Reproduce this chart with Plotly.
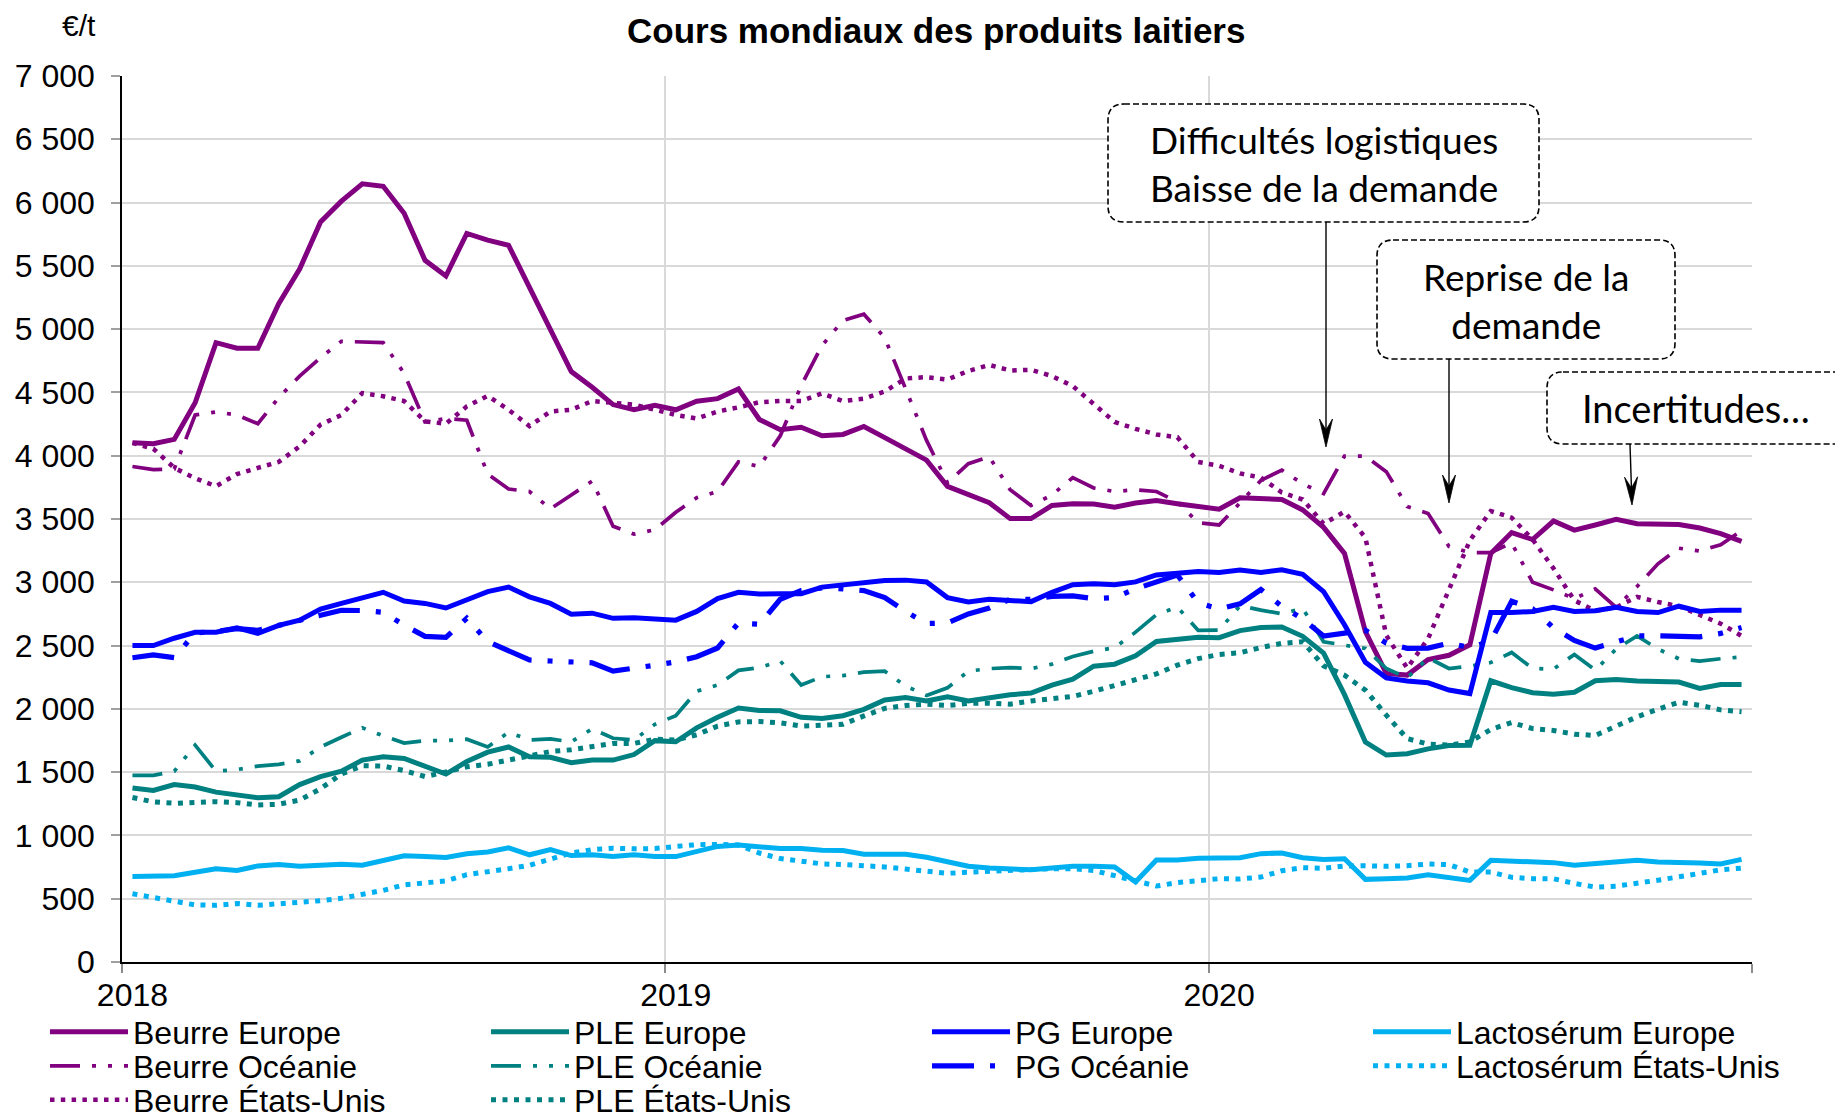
import math
import plotly.graph_objects as go

# ---------------- data (biweekly quotes, €/t) ----------------
YEAR_LABELS = ["2018", "2019", "2020"]
YEAR_FIRST_INDEX = [0, 26, 52]
N_POINTS = 78

beurre_europe = [4102, 4094, 4129, 4418, 4893, 4849, 4849, 5201, 5475, 5846, 6011, 6148, 6129, 5915, 5544, 5420,
                 5756, 5703, 5662, 5330, 4995, 4665, 4541, 4404, 4363, 4399,
                 4363, 4431, 4451, 4528, 4286, 4206, 4225, 4157, 4168, 4231, 4143, 4055, 3965, 3758, 3695, 3629,
                 3503, 3503, 3607, 3621, 3618, 3594, 3627, 3646, 3621, 3602,
                 3577, 3668, 3659, 3654, 3572, 3434, 3228, 2610, 2280, 2267, 2390, 2423, 2506, 3228, 3393, 3338,
                 3484, 3412, 3453, 3497, 3462, 3456, 3456, 3429, 3385, 3324]
beurre_oceanie = [3915, 3890, 3896, 4322, 4346, 4322, 4253, 4459, 4629, 4775, 4904, 4898, 4893, 4651, 4267, 4294,
                  4280, 3855, 3737, 3717, 3580, 3690, 3800, 3443, 3380, 3415,
                  3553, 3668, 3717, 3951, 3915, 4157, 4555, 4871, 5069, 5118, 4931, 4528, 4121, 3786, 3937, 3992,
                  3731, 3607, 3690, 3827, 3745, 3717, 3731, 3717, 3635, 3470,
                  3453, 3627, 3805, 3887, 3778, 3701, 3997, 3997, 3874, 3599, 3544, 3283, 3234, 3234, 3311, 3000,
                  2940, 2871, 2948, 2802, 2967, 3146, 3269, 3247, 3297, 3407]
beurre_usa = [4102, 4055, 3904, 3822, 3759, 3855, 3904, 3951, 4074, 4245, 4322, 4495, 4470, 4432, 4272, 4253,
              4390, 4473, 4363, 4234, 4349, 4363, 4432, 4418, 4404, 4363,
              4322, 4294, 4349, 4382, 4423, 4432, 4432, 4492, 4432, 4451, 4508, 4610, 4621, 4602, 4670, 4717,
              4673, 4679, 4629, 4550, 4404, 4267, 4212, 4168, 4146, 3951,
              3920, 3860, 3827, 3709, 3654, 3462, 3558, 3352, 2580, 2322, 2555, 2945, 3330, 3563, 3511, 3338,
              3110, 2857, 2775, 2802, 2885, 2844, 2811, 2742, 2673, 2577]
ple_europe = [1375, 1355, 1402, 1383, 1342, 1320, 1298, 1306, 1402, 1465, 1507, 1595, 1622, 1608, 1548, 1485,
              1584, 1658, 1699, 1622, 1617, 1575, 1595, 1595, 1639, 1749,
              1740, 1850, 1933, 2007, 1988, 1985, 1933, 1924, 1946, 1996, 2070, 2089, 2062, 2095, 2062, 2089,
              2111, 2125, 2188, 2235, 2337, 2353, 2419, 2532, 2551, 2565,
              2562, 2618, 2643, 2647, 2573, 2441, 2112, 1738, 1635, 1645, 1684, 1711, 1712, 2222, 2168, 2128,
              2116, 2131, 2222, 2231, 2220, 2212, 2212, 2162, 2193, 2193]
ple_oceanie = [1474, 1474, 1507, 1713, 1507, 1520, 1548, 1562, 1589, 1699, 1776, 1850, 1787, 1730, 1749, 1749,
               1760, 1699, 1815, 1754, 1762, 1740, 1842, 1768, 1754, 1878,
               1946, 2139, 2188, 2304, 2326, 2378, 2188, 2254, 2263, 2290, 2298, 2180, 2106, 2166, 2298, 2318,
               2326, 2318, 2353, 2414, 2455, 2483, 2606, 2744, 2804, 2620,
               2622, 2815, 2780, 2751, 2793, 2530, 2503, 2477, 2319, 2245, 2403, 2319, 2337, 2366, 2445, 2319,
               2314, 2430, 2306, 2473, 2577, 2473, 2396, 2377, 2396, 2410]
ple_usa = [1300, 1265, 1254, 1259, 1267, 1259, 1240, 1246, 1279, 1369, 1485, 1551, 1548, 1512, 1465, 1501,
           1542, 1562, 1595, 1630, 1663, 1677, 1705, 1727, 1727, 1760,
           1754, 1795, 1864, 1897, 1900, 1889, 1864, 1870, 1878, 1944, 2004, 2026, 2037, 2026, 2043, 2045,
           2037, 2062, 2084, 2098, 2139, 2186, 2232, 2276, 2345, 2397,
           2430, 2443, 2485, 2517, 2530, 2340, 2266, 2148, 1950, 1765, 1721, 1713, 1739, 1837, 1892, 1844,
           1829, 1800, 1790, 1868, 1937, 1997, 2052, 2028, 1992, 1978]
pg_europe = [2500, 2500, 2558, 2605, 2605, 2640, 2597, 2660, 2701, 2789, 2833, 2879, 2921, 2852, 2833, 2797,
             2866, 2926, 2962, 2885, 2833, 2748, 2756, 2715, 2720, 2715,
             2701, 2770, 2871, 2921, 2907, 2910, 2910, 2962, 2981, 3003, 3014, 3017, 3003, 2879, 2844, 2866,
             2860, 2847, 2921, 2981, 2989, 2981, 3003, 3058, 3072, 3085,
             3077, 3096, 3077, 3099, 3063, 2926, 2665, 2368, 2245, 2220, 2206, 2149, 2121, 2761, 2761, 2769,
             2802, 2769, 2775, 2802, 2769, 2761, 2811, 2769, 2780, 2780]
pg_oceanie = [2404, 2426, 2404, 2600, 2612, 2634, 2620, 2661, 2702, 2744, 2779, 2777, 2763, 2661, 2573, 2565,
              2716, 2532, 2461, 2386, 2378, 2373, 2364, 2298, 2326, 2345,
              2371, 2412, 2481, 2679, 2668, 2866, 2934, 2956, 2948, 2934, 2879, 2770, 2674, 2679, 2750, 2797,
              2866, 2866, 2888, 2893, 2871, 2879, 2948, 3003, 3058, 2838,
              2790, 2830, 2943, 2810, 2710, 2575, 2596, 2622, 2520, 2478, 2480, 2520, 2484, 2536, 2850, 2791,
              2640, 2540, 2480, 2528, 2577, 2577, 2577, 2569, 2596, 2643]
lacto_europe = [676, 676, 682, 709, 737, 723, 759, 770, 756, 764, 773, 764, 806, 839, 833, 825,
                855, 869, 902, 847, 888, 841, 847, 833, 847, 833,
                833, 874, 913, 924, 913, 896, 896, 883, 880, 852, 852, 852, 828, 792, 756, 742,
                737, 729, 742, 756, 756, 750, 632, 806, 806, 820,
                822, 824, 856, 861, 824, 809, 816, 653, 658, 663, 690, 671, 645, 803, 798, 790,
                785, 764, 774, 791, 803, 791, 789, 783, 775, 811]
lacto_usa = [539, 509, 481, 451, 448, 462, 448, 459, 465, 484, 503, 533, 566, 610, 627, 640,
             690, 718, 737, 764, 814, 861, 888, 899, 894, 896,
             913, 927, 929, 924, 861, 817, 797, 775, 770, 764, 751, 734, 715, 701, 709, 718,
             720, 729, 737, 737, 723, 682, 641, 600, 627, 646,
             658, 656, 671, 721, 745, 740, 758, 761, 756, 761, 774, 769, 711, 711, 669, 658,
             658, 621, 592, 599, 618, 646, 673, 700, 728, 742]

Y_TICKS = list(range(0, 7001, 500))

PURPLE = "#800080"
TEAL = "#008080"
BLUE = "#0000FF"
LIGHTBLUE = "#00B0F0"

OCE_DASH = "30px,12px,4px,12px,4px,12px"
PG_OCE_DASH = "42px,16px,5px,16px,5px,16px"
US_DASH = "4.5px,6.3px"
US_DASH2 = "5px,6.5px"

# (name, values, colour, width, dash, legend block)
SERIES = [
    ("Beurre Europe", beurre_europe, PURPLE, 5, "solid", "legend"),
    ("Beurre Océanie", beurre_oceanie, PURPLE, 3.7, OCE_DASH, "legend3"),
    ("Beurre États-Unis", beurre_usa, PURPLE, 4.5, US_DASH, "legend5"),
    ("PLE Europe", ple_europe, TEAL, 5, "solid", "legend"),
    ("PLE Océanie", ple_oceanie, TEAL, 3.7, OCE_DASH, "legend3"),
    ("PLE États-Unis", ple_usa, TEAL, 5, US_DASH2, "legend5"),
    ("PG Europe", pg_europe, BLUE, 5, "solid", "legend2"),
    ("PG Océanie", pg_oceanie, BLUE, 5.2, PG_OCE_DASH, "legend4"),
    ("Lactosérum Europe", lacto_europe, LIGHTBLUE, 5, "solid", "legend2"),
    ("Lactosérum États-Unis", lacto_usa, LIGHTBLUE, 5, US_DASH2, "legend4"),
]

# ---------------- geometry ----------------
# page body has an 8px margin: figure is drawn 8px smaller and all
# reference pixel positions are shifted by that offset
OFF = 8
W, H = 1843 - OFF, 1120 - OFF
PL, PR = 122 - OFF, 1752 - OFF
PT, PB = 76 - OFF, 962 - OFF


def px_x(px):  # reference pixel -> paper
    return (px - OFF - PL) / (PR - PL)


def px_y(py):
    return (PB - (py - OFF)) / (PB - PT)


FONT = "Liberation Sans, Arial, sans-serif"
CAL = "Lato, Carlito, Calibri, sans-serif"

fig = go.Figure()
x_idx = list(range(N_POINTS))
for name, vals, col, wid, dash, leg in SERIES:
    fig.add_trace(go.Scatter(
        x=x_idx, y=vals, mode="lines", name=name,
        line=dict(color=col, width=wid, dash=dash),
        legend=leg, hoverinfo="skip"))

legend_common = dict(
    orientation="h", xanchor="left", yanchor="middle",
    font=dict(family=FONT, size=32, color="black"),
    itemwidth=78, entrywidth=348, entrywidthmode="pixels",
    bgcolor="rgba(0,0,0,0)", borderwidth=0, itemclick=False, itemdoubleclick=False,
)
LEG_LEFT, LEG_RIGHT = 45, 45 + 2 * 441
ROW_Y = [1032, 1066, 1100]

shapes = []


def rounded_box(x0, y0, x1, y1, r):
    pts = [
        ("M", [(x0 + r, y0)]), ("L", [(x1 - r, y0)]), ("Q", [(x1, y0), (x1, y0 + r)]),
        ("L", [(x1, y1 - r)]), ("Q", [(x1, y1), (x1 - r, y1)]), ("L", [(x0 + r, y1)]),
        ("Q", [(x0, y1), (x0, y1 - r)]), ("L", [(x0, y0 + r)]), ("Q", [(x0, y0), (x0 + r, y0)]),
    ]
    path = ""
    for cmd, ps in pts:
        path += cmd + " ".join(f"{px_x(a):.5f},{px_y(b):.5f}" for a, b in ps) + " "
    path += "Z"
    return dict(type="path", xref="paper", yref="paper", path=path,
                fillcolor="white", line=dict(color="black", width=1.6, dash="6px,3px"), layer="above")


def arrow(xs, ys, xt, yt):
    dx, dy = xt - xs, yt - ys
    ln = math.hypot(dx, dy)
    ux, uy = dx / ln, dy / ln
    qx, qy = -uy, ux
    hl, hw, notch = 28, 6.5, 17
    bx, by = xt - hl * ux, yt - hl * uy
    nx, ny = xt - notch * ux, yt - notch * uy
    out = [dict(type="line", xref="paper", yref="paper",
                x0=px_x(xs), y0=px_y(ys), x1=px_x(nx), y1=px_y(ny),
                line=dict(color="black", width=1.4), layer="above")]
    head = [(xt, yt), (bx + hw * qx, by + hw * qy), (nx, ny), (bx - hw * qx, by - hw * qy)]
    path = "M" + " L".join(f"{px_x(a):.5f},{px_y(b):.5f}" for a, b in head) + " Z"
    out.append(dict(type="path", xref="paper", yref="paper", path=path,
                    fillcolor="black", line=dict(color="black", width=0.8), layer="above"))
    return out


shapes.append(rounded_box(1108, 104, 1539, 222, 16))
shapes.append(rounded_box(1377, 240, 1675, 359, 16))
shapes.append(rounded_box(1547, 372, 1860, 444, 16))
shapes += arrow(1326, 222, 1326, 447)
shapes += arrow(1449, 359, 1449, 503)
shapes += arrow(1630, 444, 1632, 505)


def label(text, x, y, size, family, anchor="center"):
    return dict(text=text, x=px_x(x), y=px_y(y), xref="paper", yref="paper",
                xanchor=anchor, yanchor="middle", showarrow=False,
                font=dict(family=family, size=size, color="black"))


annotations = [
    label("<b>Cours mondiaux des produits laitiers</b>", 935.5, 31, 35, FONT),
    label("€/t", 79, 26, 30, FONT),
    label("Difficultés logistiques<br>Baisse de la demande", 1324, 163, 37, CAL),
    label("Reprise de la<br>demande", 1526, 300, 37, CAL),
    label("Incertitudes…", 1696, 408, 38, CAL),
]

layout_legends = {
    "legend": dict(**legend_common, x=px_x(LEG_LEFT), y=px_y(ROW_Y[0])),
    "legend2": dict(**legend_common, x=px_x(LEG_RIGHT), y=px_y(ROW_Y[0])),
    "legend3": dict(**legend_common, x=px_x(LEG_LEFT), y=px_y(ROW_Y[1])),
    "legend4": dict(**legend_common, x=px_x(LEG_RIGHT), y=px_y(ROW_Y[1])),
    "legend5": dict(**legend_common, x=px_x(LEG_LEFT), y=px_y(ROW_Y[2])),
}

fig.update_layout(
    width=W, height=H,
    margin=dict(l=PL, r=W - PR, t=PT, b=H - PB, autoexpand=False),
    paper_bgcolor="white", plot_bgcolor="white",
    separators=", ",
    font=dict(family=FONT, color="black"),
    showlegend=True,
    shapes=shapes,
    annotations=annotations,
    xaxis=dict(
        range=[-0.5, N_POINTS - 0.5], tickmode="array",
        tickvals=YEAR_FIRST_INDEX, ticktext=YEAR_LABELS,
        ticks="", showgrid=False, zeroline=False,
        showline=True, linecolor="black", linewidth=1.5,
        tickfont=dict(family=FONT, size=32, color="black"),
        ticklabelstandoff=4,
        minor=dict(tickmode="array",
                   tickvals=[-0.5, 25.5, 51.5, N_POINTS - 0.5],
                   ticks="outside", ticklen=9, tickwidth=1.5, tickcolor="#8c8c8c",
                   showgrid=True, gridcolor="#d9d9d9", gridwidth=1.5),
    ),
    yaxis=dict(
        range=[0, 7000], tickmode="array", tickvals=Y_TICKS, tickformat=",d",
        ticks="outside", ticklen=9, tickwidth=1.5, tickcolor="#a0a0a0",
        showgrid=True, gridcolor="#d9d9d9", gridwidth=1.5, zeroline=False,
        showline=True, linecolor="black", linewidth=1.5,
        tickfont=dict(family=FONT, size=32, color="black"),
        ticklabelstandoff=10,
    ),
    **layout_legends,
)

fig.write_html("out.html")
